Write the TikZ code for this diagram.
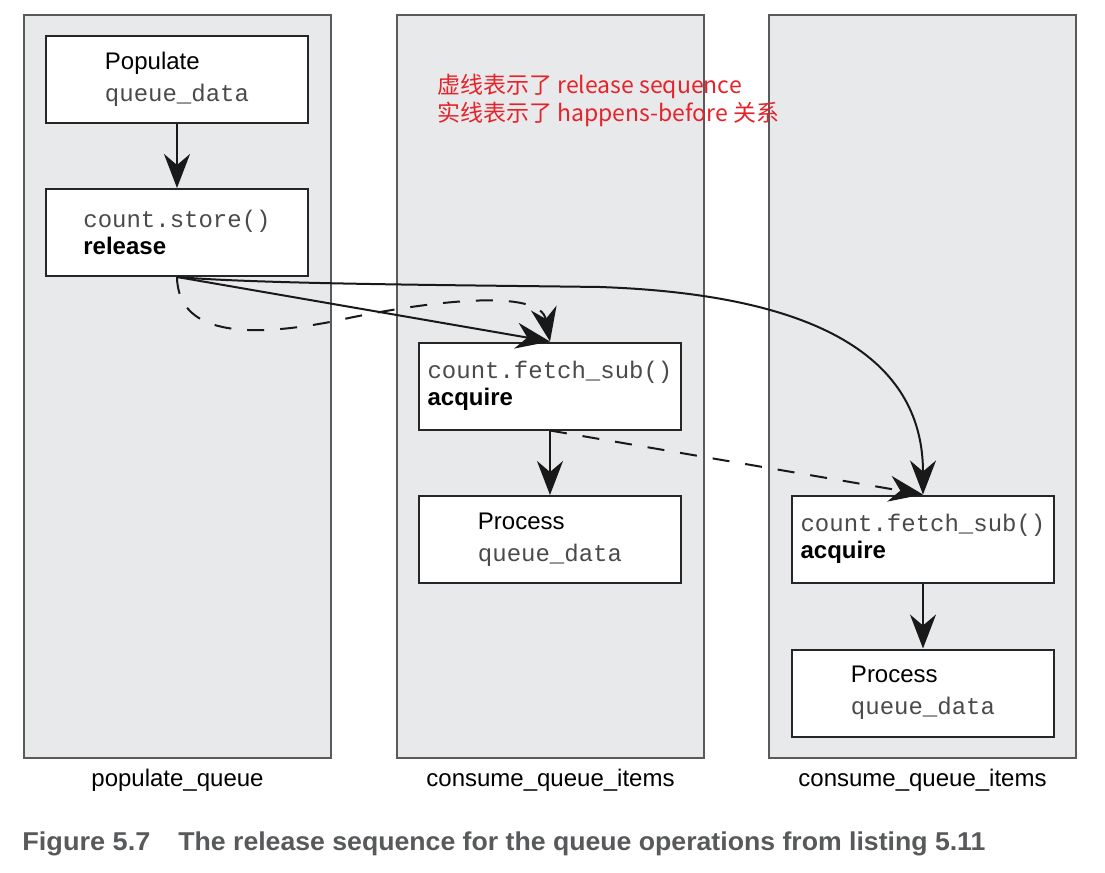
\documentclass[tikz,border=0pt]{standalone}
\usepackage{fontspec}
\setmainfont{Liberation Sans}
\setmonofont{Liberation Mono}
\newfontfamily\cjk{Noto Sans CJK SC}
\usetikzlibrary{arrows.meta}
\definecolor{panelfill}{HTML}{E8E9EB}
\definecolor{panelline}{HTML}{5A5A5A}
\definecolor{capgray}{HTML}{58595B}
\definecolor{notered}{HTML}{E5232B}
\definecolor{codegray}{HTML}{4A4A4A}
\begin{document}
\begin{tikzpicture}[x=0.5pt,y=-0.5pt,
  panel/.style={draw=panelline, line width=0.6pt, fill=panelfill, minimum width=153.5pt, minimum height=371.5pt, inner sep=0pt},
  box/.style={draw=black!85, line width=1pt, fill=white, minimum width=131pt, minimum height=43.5pt, inner sep=0pt, align=left},
  opbox/.style={box, font=\fontsize{12}{16}\selectfont},
  syncbox/.style={box, font=\fontsize{12}{13.3}\selectfont},
  flow/.style={line width=1pt, color=black!90, -{Stealth[length=17pt,width=13pt,inset=5.5pt]}},
  seq/.style={flow, dash pattern=on 8.5pt off 8pt},
  lbl/.style={font=\fontsize{12}{14}\selectfont, anchor=base, inner sep=0pt},
  note/.style={font=\cjk\fontsize{11.5}{13}\selectfont, text=notered, anchor=base west, inner sep=0pt},
  captxt/.style={text=capgray, anchor=base west, inner sep=0pt}
]
\useasboundingbox[fill=white] (0,0) rectangle (1105,873);

% panels
\node[panel] (p1) at (177.5,386.5) {};
\node[panel] (p2) at (550.5,386.5) {};
\node[panel] (p3) at (922.5,386.5) {};

\node[lbl] (l1) at (177.5,786) {populate\_queue};
\node[lbl] (l2) at (550.5,786) {consume\_queue\_items};
\node[lbl] (l3) at (922.5,786) {consume\_queue\_items};

% boxes
\node[opbox] (pop) at (177,79.5) {Populate\\{\ttfamily\color{codegray}queue\_data}};
\node[syncbox] (store) at (177,232.5) {{\ttfamily\color{codegray}count.store()}\\\textbf{release}};
\node[syncbox] (fs1) at (550,386) {{\ttfamily\color{codegray}count.fetch\_sub()}\\\textbf{acquire}};
\node[opbox] (pr1) at (550,539.5) {Process\\{\ttfamily\color{codegray}queue\_data}};
\node[syncbox] (fs2) at (923,539) {{\ttfamily\color{codegray}count.fetch\_sub()}\\\textbf{acquire}};
\node[opbox] (pr2) at (923,693) {Process\\{\ttfamily\color{codegray}queue\_data}};

% note
\node[note] (n1) at (437,93) {虚线表示了 release sequence};
\node[note] (n2) at (437,121) {实线表示了 happens-before 关系};

% connectors
\draw[flow] (pop.south) -- (store.north);
\draw[flow] (store.south) -- (fs1.north);
\coordinate (c1) at (600,287);
\draw[flow] (store.south) .. controls (260,284) and (450,285) .. (c1)
  .. controls (830,295) and (923,365) .. (fs2.north);
\coordinate (d1) at (330,322);
\draw[seq] (store.south) .. controls (178,340) and (260,335) .. (d1)
  .. controls (430,300) and (540,288) .. (fs1.north);
\draw[seq] (fs1.south) -- (fs2.north);
\draw[flow] (fs1.south) -- (pr1.north);
\draw[flow] (fs2.south) -- (pr2.north);

% caption
\node[captxt] (cap1) at (22,850) {\resizebox{64pt}{\height}{\bfseries\fontsize{12.9}{14}\selectfont Figure 5.7}};
\node[captxt] (cap2) at (178,850) {\resizebox{403.5pt}{\height}{\bfseries\fontsize{12.9}{14}\selectfont The release sequence for the queue operations from listing 5.11}};
\end{tikzpicture}
\end{document}
